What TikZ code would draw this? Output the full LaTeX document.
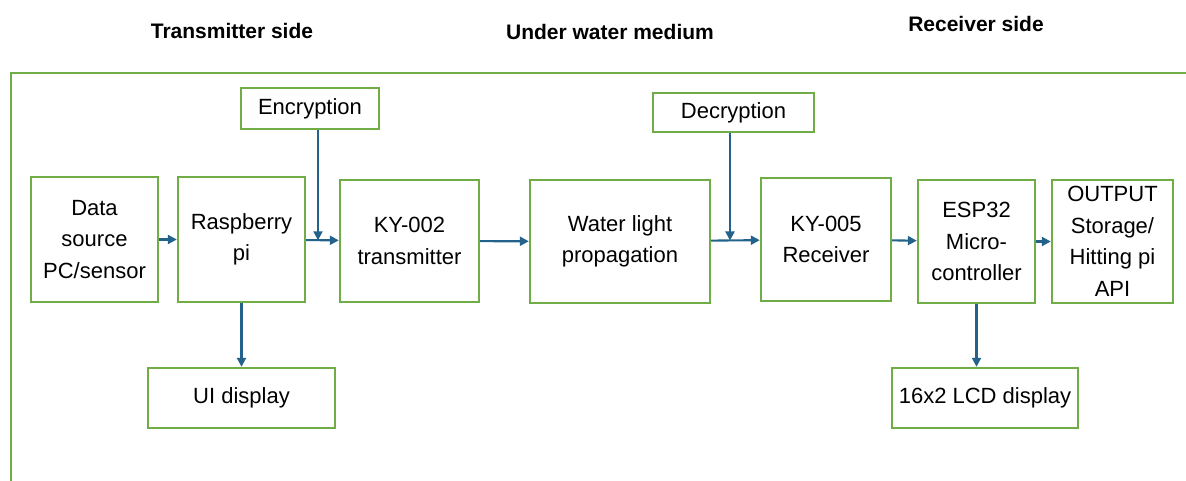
\documentclass[tikz,border=0pt]{standalone}
\usepackage{fontspec}
\setmainfont{Liberation Sans}
\usetikzlibrary{arrows.meta,positioning}
\definecolor{boxgreen}{RGB}{112,173,71}
\definecolor{flowblue}{RGB}{35,98,138}

\begin{document}
\begin{tikzpicture}[x=1pt,y=-1pt,
      block/.style={draw=boxgreen,line width=2.4pt,align=center,inner sep=0pt,
        font=\fontsize{22}{31.5}\selectfont},
      flow/.style={draw=flowblue,line width=2.1pt,-{Triangle[length=9pt,width=9pt]}},
      headline/.style={font=\fontsize{21}{25}\selectfont\bfseries}]
      \useasboundingbox (0,0) rectangle (1186,481);
      \draw[boxgreen,line width=2.4pt] (11,481) -- (11,73) -- (1186,73);
      \node[headline] (txhead) at (232,31) {Transmitter side};
      \node[headline] (uwhead) at (610,32) {Under water medium};
      \node[headline] (rxhead) at (976,24) {Receiver side};
      \node[block,minimum width=127,minimum height=125] (data) at (94.5,239.5) {Data\\source\\PC/sensor};
      \node[block,minimum width=127,minimum height=125] (rasp) at (241.5,239.5) {Raspberry\\pi};
      \node[block,minimum width=138,minimum height=41] (enc) at (310,108.5) {Encryption};
      \node[block,minimum width=139,minimum height=122] (ky002) at (409.5,241) {KY-002\\transmitter};
      \node[block,minimum width=180,minimum height=123] (water) at (620,241.5) {Water light\\propagation};
      \node[block,minimum width=161,minimum height=39] (dec) at (733.5,112.5) {Decryption};
      \node[block,minimum width=130,minimum height=123] (ky005) at (826,239.5) {KY-005\\Receiver};
      \node[block,minimum width=117,minimum height=123] (esp) at (976.5,241.5) {ESP32\\Micro-\\controller};
      \node[block,minimum width=121,minimum height=123] (out) at (1112.5,241.5) {OUTPUT\\Storage/\\Hitting pi\\API};
      \node[block,minimum width=187,minimum height=60] (ui) at (241.5,398) {UI display};
      \node[block,minimum width=186,minimum height=60] (lcd) at (985,398) {16x2 LCD display};
      \coordinate (encin) at (318,240.3);
      \coordinate (decin) at (730,240.5);
      \draw[flow] (data) -- (rasp);
      \draw[flow] (rasp) -- (ky002);
      \draw[flow] (enc.south -| encin) -- (encin);
      \draw[flow] (ky002) -- (water);
      \draw[flow] (water) -- (ky005);
      \draw[flow] (dec.south -| decin) -- (decin);
      \draw[flow] (ky005) -- (esp);
      \draw[flow] (esp) -- (out);
      \draw[flow] (rasp) -- (ui);
      \draw[flow] (esp.south) -- (esp.south |- lcd.north);
    \end{tikzpicture}
\end{document}
